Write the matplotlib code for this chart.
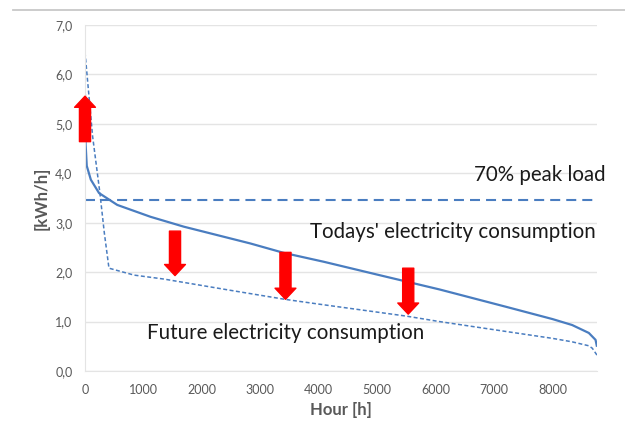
import matplotlib
matplotlib.use("Agg")
import matplotlib.pyplot as plt
from matplotlib.patches import FancyArrowPatch
from matplotlib.ticker import FuncFormatter

# load duration curves
today_hours = [0, 10, 30, 100, 240, 552, 1120, 1690, 2260, 2830, 3400, 4085, 5000, 6065, 7200, 8000, 8335, 8620, 8735, 8760]
today_load = [5.6, 4.6, 4.15, 3.87, 3.60, 3.36, 3.12, 2.92, 2.75, 2.58, 2.39, 2.21, 1.95, 1.65, 1.30, 1.05, 0.93, 0.77, 0.63, 0.49]

future_hours = [0, 130, 255, 330, 410, 840, 1350, 2500, 3420, 4020, 5500, 6065, 7200, 8000, 8335, 8620, 8680, 8760]
future_load = [6.45, 4.75, 3.6, 2.8, 2.08, 1.94, 1.86, 1.63, 1.45, 1.35, 1.11, 1.0, 0.80, 0.66, 0.59, 0.51, 0.46, 0.32]

peak_load = 3.46

up_arrow = (0, 4.64, 5.56)
down_x = [1540, 3430, 5530]
down_top = [2.83, 2.4, 2.08]
down_tip = [1.93, 1.45, 1.15]

blue = '#4a7dc0'
grey_txt = '#595959'

plt.rcParams['font.family'] = ['Lato', 'DejaVu Sans']

fig = plt.figure(figsize=(6.25, 4.29), dpi=100)
ax = fig.add_axes([85/625, 1-371/429, (597-85)/625, (371-25)/429])

# top border line of the slide
fig.add_artist(plt.Line2D([13/625, 1], [1-10/429, 1-10/429], color='#c8c8c8', lw=1.3))

ax.plot(today_hours, today_load, color=blue, lw=1.6, solid_capstyle='butt')
ax.plot(future_hours, future_load, color=blue, lw=1.1, dashes=(2.6, 1.6))
ax.plot([0, 8760], [peak_load, peak_load], color=blue, lw=1.5, dashes=(4.8, 2.9))

def arrow(x, y0, y1):
    a = FancyArrowPatch((x, y0), (x, y1), arrowstyle='simple,head_width=15,head_length=8,tail_width=8',
                        mutation_scale=1, color='#ff0000', shrinkA=0, shrinkB=0, clip_on=False, zorder=5)
    ax.add_patch(a)

arrow(*up_arrow)
for x, t, b in zip(down_x, down_top, down_tip):
    arrow(x, t, b)

ax.text(6660, 3.97, '70% peak load', fontsize=14.8, va='center', ha='left', color='#1a1a1a')
ax.text(3850, 2.81, "Todays' electricity consumption", fontsize=14.8, va='center', ha='left', color='#1a1a1a')
ax.text(1056, 0.77, 'Future electricity consumption', fontsize=14.8, va='center', ha='left', color='#1a1a1a')

ax.set_xlim(0, 8760)
ax.set_ylim(0, 7)
ax.set_xticks(range(0, 9000, 1000))
ax.set_yticks(range(0, 8))
ax.yaxis.set_major_formatter(FuncFormatter(lambda v, p: ('%.1f' % v).replace('.', ',')))
ax.tick_params(length=0, labelsize=9, colors=grey_txt, pad=9)
ax.grid(axis='y', color='#e4e4e4', lw=1)
ax.set_axisbelow(True)
for s in ['top', 'right']:
    ax.spines[s].set_visible(False)
ax.spines['left'].set_color('#e4e4e4')
ax.spines['bottom'].set_color('#e4e4e4')

ax.set_xlabel('Hour [h]', fontsize=12, fontweight='bold', color=grey_txt, labelpad=5)
ax.set_ylabel('[kWh/h]', fontsize=12, fontweight='bold', color=grey_txt, labelpad=4)

fig.savefig('out.png', dpi=100)
